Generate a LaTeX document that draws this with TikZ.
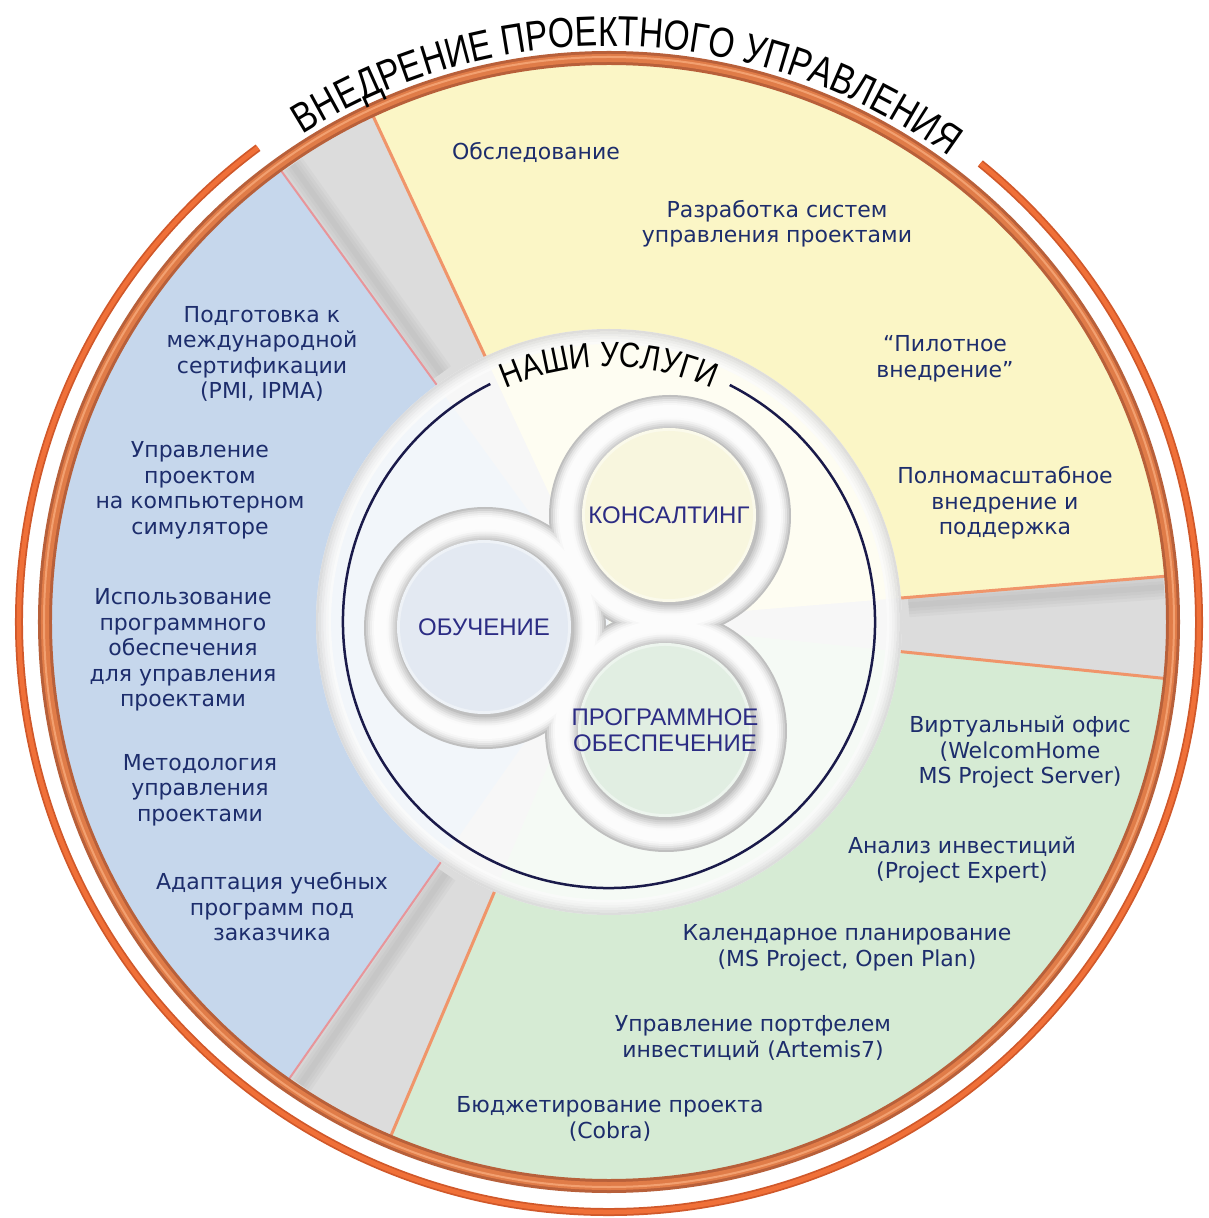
\documentclass[tikz,border=0pt]{standalone}
\usepackage{fontspec}
\setmainfont{DejaVu Sans}
\newfontfamily\titlefont[FakeStretch=0.8]{Liberation Sans}
\newfontfamily\svcfont[FakeStretch=0.84]{Liberation Sans}
\newfontfamily\lblfont{Liberation Sans}
\usetikzlibrary{decorations.text}
\definecolor{secyel}{HTML}{FBF6C6}
\definecolor{secblu}{HTML}{C6D7EC}
\definecolor{secgrn}{HTML}{D6EBD4}
\definecolor{wedgecol}{HTML}{DCDCDC}
\definecolor{salmon}{HTML}{F0956A}
\definecolor{pinkln}{HTML}{E8959A}
\definecolor{ringdk}{HTML}{B8603A}
\definecolor{ringmd}{HTML}{E07C48}
\definecolor{ringlt}{HTML}{F2A070}
\definecolor{thindk}{HTML}{D0582A}
\definecolor{thinmd}{HTML}{F07038}
\definecolor{navytx}{HTML}{1D2D6C}
\definecolor{navyln}{HTML}{1A1A4A}
\definecolor{indigo}{HTML}{2C2C84}
\definecolor{dskblu}{HTML}{E3E9F2}
\definecolor{dskyel}{HTML}{F8F6DE}
\definecolor{dskgrn}{HTML}{E1EEE2}
\tikzset{
  lbl/.style={font=\fontsize{22}{25.5}\selectfont, text=navytx, align=center, inner sep=0pt},
  svc/.style={font=\lblfont\fontsize{24}{25.5}\selectfont, text=indigo, align=center, inner sep=0pt},
  edgeline/.style={line width=3pt, salmon},
  blueedge/.style={line width=2pt, pinkln},
  wshadow/.style={black, opacity=0.022},
}
\begin{document}
\begin{tikzpicture}[x=1pt,y=1pt]
\useasboundingbox (-609,-596) rectangle (599,622);
\fill[white] (-609,-596) rectangle (599,622);
% sectors
\fill[wedgecol] (0,0) circle[radius=558pt];
\foreach \w in {6,12,18,24} {
  \draw[wshadow, line width=\w pt] (3.2:300pt) -- (3.6:556pt);
  \draw[wshadow, line width=\w pt] (124.0:300pt) -- (124.7:556pt);
  \draw[wshadow, line width=\w pt] (237.0:300pt) -- (236.3:556pt);
}
\fill[secyel] (0,0) -- (4.7:558pt) arc[start angle=4.7,end angle=115,radius=558pt] -- cycle;
\fill[secblu] (0,0) -- (126:558pt) arc[start angle=126,end angle=235,radius=558pt] -- cycle;
\fill[secgrn] (0,0) -- (247:558pt) arc[start angle=247,end angle=354.2,radius=558pt] -- cycle;
\foreach \a in {4.7,115,247,354.2} \draw[edgeline] (\a:293pt) -- (\a:558pt);
\foreach \a in {126,235} \draw[blueedge] (\a:293pt) -- (\a:558pt);
% outer ring
\draw[ringdk, line width=14pt] (0,0) circle[radius=564pt];
\draw[ringmd, line width=8pt] (0,0) circle[radius=564pt];
\draw[ringlt, line width=2pt] (0,0) circle[radius=565pt];
% thin outer arc
\draw[thindk, line width=8pt] (51:590pt) arc[start angle=51, end angle=-233.5, radius=590pt];
\draw[thinmd, line width=4.5pt] (51:590pt) arc[start angle=51, end angle=-233.5, radius=590pt];
% title
\path[decorate, decoration={text along path, text align=center,
  text={|\titlefont\fontsize{42}{42}\selectfont|ВНЕДРЕНИЕ ПРОЕКТНОГО УПРАВЛЕНИЯ}}]
  (128:576pt) arc[start angle=128, end angle=48, radius=576pt];
% inner white disc
\fill[white, opacity=0.78] (0,0) circle[radius=293pt];
\foreach \i/\c in {0/32,1/25,2/18,3/12,4/7,5/3}
  \draw[gray!\c, line width=2.6pt, opacity=0.8] (0,0) circle[radius={(291.7-2.5*\i)*1pt}];
% navy circle
\draw[navyln, line width=2.5pt] (63:266pt) arc[start angle=63, end angle=-243.5, radius=266pt];
\path[decorate, decoration={text along path, text align=center,
  text={|\svcfont\fontsize{35}{35}\selectfont|НАШИ УСЛУГИ}}]
  (130:255pt) arc[start angle=130, end angle=50, radius=255pt];
% trefoil
\coordinate (cO) at (-125,-5);
\coordinate (cK) at (60,107);
\coordinate (cP) at (56,-108);
\foreach \r/\c in {121/50,119/36,117/23,115/13,113/6,111/2}
  \foreach \p in {cO,cK,cP} \fill[gray!\c] ([shift={(1,-1)}]\p) circle[radius=\r pt];
\foreach \r/\c in {99/4,97/10,95/18,93/28,91/38,89/50}
  \foreach \p in {cO,cK,cP} \fill[gray!\c] ([shift={(1.5,-1.5)}]\p) circle[radius=\r pt];
\foreach \p/\col in {cO/dskblu,cK/dskyel,cP/dskgrn} {
  \fill[\col!60!white] (\p) circle[radius=87pt];
  \fill[\col] (\p) circle[radius=84pt];
}
\node[svc] (obu) at (cO) {ОБУЧЕНИЕ};
\node[svc] (kon) at (cK) {КОНСАЛТИНГ};
\node[svc] (prg) at (cP) {ПРОГРАММНОЕ\\ОБЕСПЕЧЕНИЕ};
% sector labels
\node[lbl] (y1) at (-73,470) {Обследование};
\node[lbl] (y2) at (168,398.5) {Разработка систем\\управления проектами};
\node[lbl] (y3) at (336,263) {“Пилотное\\внедрение”};
\node[lbl] (y4) at (396,119) {Полномасштабное\\внедрение и\\поддержка};
\node[lbl] (b1) at (-347,268) {Подготовка к\\международной\\сертификации\\(PMI, IPMA)};
\node[lbl] (b2) at (-409,131.5) {Управление\\проектом\\на компьютерном\\симуляторе};
\node[lbl] (b3) at (-426,-28) {Использование\\программного\\обеспечения\\для управления\\проектами};
\node[lbl] (b4) at (-409,-168) {Методология\\управления\\проектами};
\node[lbl] (b5) at (-337,-285) {Адаптация учебных\\программ под\\заказчика};
\node[lbl] (g1) at (411,-130) {Виртуальный офис\\(WelcomHome\\MS Project Server)};
\node[lbl] (g2) at (353,-238) {Анализ инвестиций\\(Project Expert)};
\node[lbl] (g3) at (238,-326) {Календарное планирование\\(MS Project, Open Plan)};
\node[lbl] (g4) at (144,-416) {Управление портфелем\\инвестиций (Artemis7)};
\node[lbl] (g5) at (1,-497) {Бюджетирование проекта\\(Cobra)};
\end{tikzpicture}
\end{document}
